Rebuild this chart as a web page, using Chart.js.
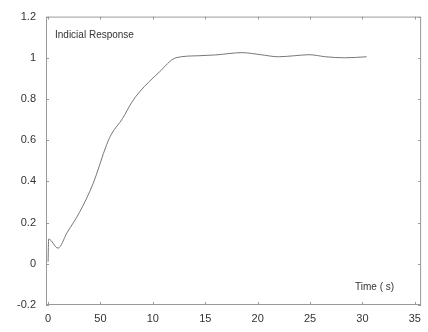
<!DOCTYPE html>
<html>
<head>
<meta charset="utf-8">
<script src="https://cdn.jsdelivr.net/npm/chart.js@4/dist/chart.umd.min.js"></script>
<style>
  html, body { margin: 0; padding: 0; background: #fff; }
  #wrap { width: 428px; height: 332px; position: relative; }
</style>
</head>
<body>
<div id="wrap"><canvas id="c"></canvas></div>
<script>
// time (s) and response
var timeValues = [0, 0.05, 0.95, 1.8, 3.0, 4.3, 5.6, 6.05, 7.1, 8.0, 8.7, 10.6, 12.2, 14.4, 16.0, 18.5, 20.3, 22.0, 23.5, 24.9, 26.5, 28.3, 30.4];
var responseValues = [0.01, 0.12, 0.076, 0.15, 0.25, 0.39, 0.58, 0.63, 0.705, 0.785, 0.833, 0.93, 1.0, 1.01, 1.014, 1.025, 1.015, 1.005, 1.01, 1.015, 1.005, 1.0, 1.005];

// axis ticks (the x labels are printed as in the original, "50" included)
var xTickValues = [0, 5, 10, 15, 20, 25, 30, 35];
var xTickLabels = ["0", "50", "10", "15", "20", "25", "30", "35"];
var yTickValues = [-0.2, 0, 0.2, 0.4, 0.6, 0.8, 1, 1.2];
var yTickLabels = ["-0.2", "0", "0.2", "0.4", "0.6", "0.8", "1", "1.2"];

var titleText = "Indicial Response";
var xAxisText = "Time ( s)";

var points = timeValues.map(function(t, i) { return { x: t, y: responseValues[i] }; });

var frameAndTicks = {
    id: "frameAndTicks",
    afterDraw: function(chart) {
        var ctx = chart.ctx;
        var a = chart.chartArea;
        var xs = chart.scales.x, ys = chart.scales.y;
        ctx.save();
        ctx.strokeStyle = "#999";
        ctx.lineWidth = 1;
        ctx.strokeRect(a.left + 0.5, a.top + 0.5, a.right - a.left - 1, a.bottom - a.top - 1);
        ctx.beginPath();
        yTickValues.forEach(function(v) {
            var py = Math.round(ys.getPixelForValue(v)) + 0.5;
            ctx.moveTo(a.left, py); ctx.lineTo(a.left + 3, py);
            ctx.moveTo(a.right, py); ctx.lineTo(a.right - 3, py);
        });
        xTickValues.forEach(function(v) {
            var px = Math.round(xs.getPixelForValue(v)) + 0.5;
            ctx.moveTo(px, a.bottom); ctx.lineTo(px, a.bottom - 3);
            ctx.moveTo(px, a.top); ctx.lineTo(px, a.top + 3);
        });
        ctx.stroke();

        ctx.fillStyle = "#333";
        ctx.font = "10px 'Liberation Sans', Arial, sans-serif";
        ctx.textBaseline = "middle";
        ctx.textAlign = "left";
        ctx.fillText(titleText, a.left + 9, a.top + 19);
        ctx.textAlign = "right";
        ctx.fillText(xAxisText, a.right - 27, a.bottom - 18);
        ctx.restore();
    }
};

new Chart(document.getElementById("c"), {
    type: "line",
    data: {
        datasets: [{
            data: points,
            borderColor: "#777",
            borderWidth: 1,
            pointRadius: 0,
            cubicInterpolationMode: "monotone",
            fill: false
        }]
    },
    options: {
        responsive: true,
        maintainAspectRatio: false,
        animation: false,
        layout: { padding: { top: 11, right: 4, left: 0, bottom: 0 } },
        plugins: { legend: { display: false }, tooltip: { enabled: false } },
        scales: {
            x: {
                type: "linear",
                min: -0.2,
                max: 35.6,
                afterBuildTicks: function(s) { s.ticks = xTickValues.map(function(v) { return { value: v }; }); },
                afterFit: function(s) { s.height = 27; },
                grid: { display: false, drawTicks: false },
                border: { display: false },
                ticks: {
                    padding: 7,
                    color: "#333",
                    font: { family: "'Liberation Sans', Arial, sans-serif", size: 11 },
                    maxRotation: 0,
                    autoSkip: false,
                    callback: function(v) { return xTickLabels[xTickValues.indexOf(v)]; }
                }
            },
            y: {
                min: -0.2,
                max: 1.2,
                afterBuildTicks: function(s) { s.ticks = yTickValues.map(function(v) { return { value: v }; }); },
                afterFit: function(s) { s.width = 46; },
                grid: { display: false, drawTicks: false },
                border: { display: false },
                ticks: {
                    padding: 10,
                    color: "#333",
                    font: { family: "'Liberation Sans', Arial, sans-serif", size: 11 },
                    autoSkip: false,
                    callback: function(v) { return yTickLabels[yTickValues.indexOf(v)]; }
                }
            }
        }
    },
    plugins: [frameAndTicks]
});
</script>
</body>
</html>
